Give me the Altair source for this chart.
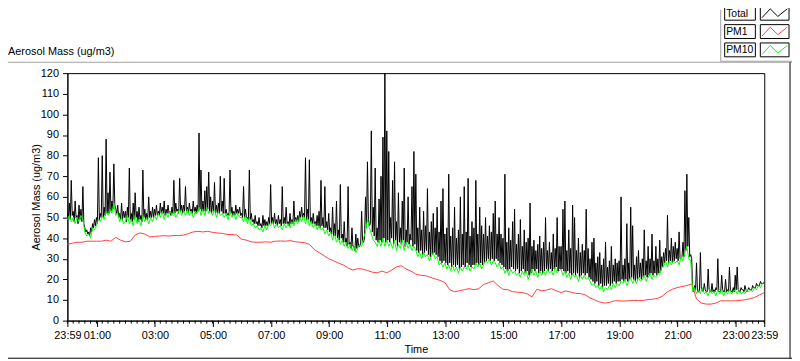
import altair as alt
import pandas as pd

FONT = "Liberation Sans"

# ---- data ----
# Total, upper readings: one value every 4 minutes from 23:59 (minute 0) to 23:59 next day (minute 1440); 15 per hour
TOTAL = [
    52, 57, 68, 53, 58, 51, 56, 54, 65, 45, 44, 43, 45, 47, 49,   # 23:59
    50, 79, 52, 80, 55, 88, 62, 72, 58, 76, 54, 56, 52, 57, 53,   # 00:59
    53, 55, 74, 52, 57, 62, 53, 55, 51, 73, 54, 52, 60, 53, 55,   # 01:59
    54, 56, 53, 57, 55, 58, 54, 56, 53, 55, 68, 57, 54, 69, 56,   # 02:59
    56, 65, 55, 57, 54, 58, 55, 56, 91, 73, 58, 63, 65, 72, 60,   # 03:59
    58, 67, 56, 57, 70, 58, 69, 54, 52, 73, 55, 53, 56, 54, 55,   # 04:59
    52, 65, 54, 50, 73, 52, 49, 51, 48, 50, 47, 51, 49, 48, 50,   # 05:59
    66, 50, 52, 49, 51, 49, 65, 50, 55, 48, 52, 49, 58, 50, 51,   # 06:59
    53, 55, 52, 79, 54, 78, 50, 52, 48, 51, 53, 68, 50, 65, 48,   # 07:59
    52, 45, 55, 47, 58, 44, 66, 42, 48, 40, 65, 38, 45, 36, 42,   # 08:59
    40, 36, 53, 38, 60, 77, 46, 92, 55, 74, 45, 59, 70, 89, 120,  # 09:59
    92, 82, 50, 68, 77, 48, 62, 45, 58, 74, 44, 60, 42, 65, 82,   # 10:59
    71, 45, 55, 44, 53, 46, 64, 43, 48, 52, 45, 55, 43, 58, 64,   # 11:59
    42, 45, 71, 41, 45, 55, 40, 44, 60, 42, 65, 43, 69, 41, 48,   # 12:59
    45, 68, 42, 55, 46, 42, 50, 41, 46, 43, 52, 58, 42, 50, 42,   # 13:59
    40, 71, 38, 45, 39, 48, 54, 37, 42, 49, 36, 44, 38, 40, 57,   # 14:59
    36, 39, 34, 37, 41, 35, 38, 50, 34, 38, 33, 42, 35, 50, 36,   # 15:59
    36, 54, 58, 34, 44, 35, 56, 50, 34, 40, 33, 37, 34, 54, 35,   # 16:59
    30, 38, 40, 28, 31, 33, 27, 30, 38, 26, 29, 36, 27, 30, 28,   # 17:59
    29, 60, 27, 30, 47, 28, 55, 46, 27, 31, 34, 28, 30, 44, 29,   # 18:59
    36, 30, 42, 29, 36, 30, 39, 31, 33, 35, 51, 34, 40, 36, 38,   # 19:59
    35, 43, 30, 38, 63, 71, 50, 32, 15, 17, 28, 14, 33, 15, 18,   # 20:59
    14, 25, 14, 18, 15, 16, 30, 14, 22, 14, 20, 15, 26, 14, 16,   # 21:59
    22, 26, 14, 16, 15, 17, 14, 16, 15, 17, 16, 18, 17, 19, 18,   # 22:59
    19,
]

# Total, lower readings (troughs), 2 minutes after each upper reading; 15 per hour
TOTAL_LOW = [
    50, 49, 51, 48, 50, 47, 49, 48, 47, 43, 42, 41, 43, 45, 46,
    47, 49, 50, 50, 51, 52, 52, 53, 54, 56, 52, 50, 49, 49, 50,
    48, 50, 49, 48, 49, 50, 48, 49, 48, 50, 49, 49, 50, 50, 50,
    51, 51, 51, 52, 52, 51, 52, 52, 51, 52, 52, 53, 52, 53, 52,
    53, 53, 52, 53, 52, 53, 52, 53, 54, 53, 53, 53, 54, 53, 52,
    53, 52, 52, 52, 53, 52, 52, 51, 51, 52, 51, 51, 52, 52, 51,
    50, 50, 50, 49, 49, 48, 47, 47, 46, 46, 45, 46, 46, 46, 47,
    47, 47, 47, 46, 47, 46, 47, 47, 47, 46, 47, 47, 48, 48, 48,
    50, 50, 50, 49, 49, 48, 47, 47, 46, 46, 45, 46, 45, 45, 44,
    43, 42, 41, 41, 40, 39, 40, 38, 38, 36, 37, 35, 36, 34, 35,
    36, 37, 38, 40, 45, 49, 47, 43, 41, 39, 38, 39, 38, 40, 38,
    39, 38, 40, 37, 39, 36, 38, 37, 39, 36, 38, 37, 39, 36, 37,
    34, 33, 34, 32, 33, 34, 32, 31, 32, 33, 32, 31, 29, 28, 29,
    28, 27, 28, 26, 27, 26, 27, 25, 26, 27, 26, 28, 27, 26, 27,
    27, 28, 27, 28, 27, 28, 29, 30, 29, 30, 29, 30, 29, 28, 27,
    26, 25, 24, 25, 26, 25, 24, 25, 23, 24, 25, 23, 24, 22, 23,
    25, 24, 25, 23, 24, 23, 24, 25, 24, 25, 24, 25, 26, 24, 25,
    25, 24, 23, 24, 23, 22, 23, 22, 23, 21, 22, 23, 22, 23, 21,
    20, 19, 18, 19, 17, 18, 16, 17, 17, 18, 17, 18, 19, 18, 19,
    19, 20, 19, 20, 19, 20, 21, 20, 19, 20, 21, 20, 21, 22, 21,
    22, 23, 22, 23, 22, 23, 24, 26, 28, 29, 28, 29, 28, 29, 30,
    29, 30, 31, 31, 34, 36, 31, 30, 14, 15, 14, 14, 15, 14, 15,
    14, 15, 14, 14, 14, 15, 14, 14, 15, 14, 14, 14, 15, 14, 14,
    15, 15, 14, 15, 14, 15, 15, 15, 15, 16, 16, 17, 17, 18, 18,
]

# PM10, every 4 minutes
PM10 = [
    49, 51, 48, 50, 47, 50, 48, 51, 49, 43, 41, 42, 40, 45, 44,
    46, 49, 48, 51, 49, 53, 51, 54, 52, 57, 51, 52, 48, 50, 47,
    48, 51, 47, 49, 46, 51, 47, 49, 46, 51, 48, 50, 47, 50, 48,
    51, 49, 52, 50, 53, 49, 52, 50, 53, 51, 53, 50, 52, 54, 51,
    53, 51, 54, 51, 53, 50, 53, 52, 55, 51, 54, 51, 55, 52, 53,
    51, 54, 50, 53, 51, 52, 50, 52, 49, 53, 50, 52, 49, 52, 50,
    50, 48, 51, 47, 50, 46, 47, 45, 46, 44, 45, 43, 46, 44, 47,
    46, 48, 45, 47, 45, 46, 44, 47, 45, 47, 45, 48, 46, 49, 47,
    50, 48, 51, 47, 50, 46, 48, 45, 47, 44, 46, 44, 45, 42, 44,
    41, 43, 39, 42, 38, 40, 37, 39, 36, 38, 35, 37, 34, 36, 33,
    35, 37, 36, 40, 43, 49, 45, 42, 39, 38, 36, 39, 36, 40, 36,
    39, 36, 38, 35, 39, 34, 37, 35, 39, 34, 38, 35, 37, 34, 36,
    34, 31, 33, 30, 33, 31, 32, 29, 31, 33, 30, 31, 27, 28, 26,
    28, 25, 27, 24, 27, 24, 26, 23, 26, 24, 26, 25, 27, 24, 26,
    25, 28, 26, 28, 25, 27, 29, 28, 30, 27, 29, 28, 26, 28, 25,
    26, 23, 25, 22, 25, 23, 24, 22, 23, 21, 24, 22, 24, 20, 22,
    25, 22, 24, 21, 24, 22, 24, 22, 25, 23, 24, 22, 26, 23, 24,
    25, 22, 24, 21, 23, 20, 23, 21, 22, 19, 22, 20, 22, 20, 21,
    19, 17, 18, 16, 17, 15, 17, 14, 16, 15, 17, 15, 18, 16, 18,
    17, 19, 18, 20, 17, 19, 21, 18, 20, 18, 21, 19, 20, 22, 19,
    21, 23, 20, 22, 21, 23, 22, 26, 26, 29, 26, 29, 27, 29, 28,
    29, 27, 31, 29, 33, 36, 30, 29, 14, 16, 13, 15, 13, 16, 13,
    14, 12, 15, 13, 14, 12, 15, 13, 15, 12, 14, 13, 15, 13, 14,
    15, 13, 15, 13, 14, 13, 15, 14, 15, 14, 16, 15, 17, 16, 18,
    19,
]

# PM1, every 10 minutes; 6 per hour
PM1 = [
    37, 37.5, 38, 38, 38.5, 38.5,
    38.5, 38.5, 39, 38.5, 40.4, 39,
    38.2, 38.5, 41.5, 42.5, 42, 40.6,
    40.8, 41, 41.2, 41, 41.3, 41.2,
    41.5, 42.2, 43, 43.3, 43, 43.3,
    42.8, 42.5, 42.3, 41.8, 41.7, 41.5,
    39.5, 39, 38.2, 38, 38, 38.2,
    38, 38.5, 38.6, 38.5, 38.8, 38.3,
    38, 37.8, 37, 34.5, 33, 31.5,
    30, 29, 27.9, 27, 25.5, 24.5,
    25.2, 25, 24.3, 23.5, 23.2, 24,
    23.2, 24.5, 26, 26.6, 25, 24,
    22.5, 22, 21.8, 21, 20.2, 19.5,
    18.5, 15, 14, 14.5, 15, 15.5,
    15, 15.5, 17.5, 18.4, 19.2, 17,
    15.2, 15, 14, 13.8, 13.6, 13,
    11.5, 15.2, 14.5, 14.8, 15.5, 14.5,
    13.6, 14.4, 13.8, 13.2, 13.1, 12.5,
    11, 10, 9, 8.5, 8.8, 9.6,
    9.6, 9.5, 9.6, 9.8, 9.7, 9.8,
    10.2, 10.4, 10.8, 12, 14, 15.2,
    16, 16.5, 17, 17.8, 10.5, 8.5,
    8, 8, 8.5, 9.6, 9.6, 9.6,
    9.6, 9.8, 10.1, 10.6, 11.2, 12.5,
    13.6,
]

TICK_MINUTES = [0, 61, 181, 301, 421, 541, 661, 781, 901, 1021, 1141, 1261, 1381, 1440]
TICK_LABELS = ["23:59", "01:00", "03:00", "05:00", "07:00", "09:00", "11:00",
               "13:00", "15:00", "17:00", "19:00", "21:00", "23:00", "23:59"]
MINOR_TICKS = list(range(0, 1441, 12))
Y_TICKS = list(range(0, 121, 10))

SERIES = ["Total", "PM1", "PM10"]
COLORS = ["#000000", "#ff4040", "#00ff00"]

# Total: upper readings at every 4th minute, troughs in between
t_min, t_val = [], []
for i, hi in enumerate(TOTAL):
    t_min.append(4 * i)
    t_val.append(hi)
    if i < len(TOTAL_LOW):
        t_min.append(4 * i + 2)
        t_val.append(TOTAL_LOW[i])

df_total = pd.DataFrame({"minute": t_min, "value": t_val})
df_pm10 = pd.DataFrame({"minute": list(range(0, 1441, 4)), "value": PM10})
df_pm1 = pd.DataFrame({"minute": list(range(0, 1441, 10)), "value": PM1})
df_minor = pd.DataFrame({"minute": MINOR_TICKS})

arr_m = "[" + ",".join(str(m) for m in TICK_MINUTES) + "]"
arr_l = "[" + ",".join("'" + s + "'" for s in TICK_LABELS) + "]"
label_expr = f"{arr_l}[indexof({arr_m}, datum.value)]"

x_enc = alt.X(
    "minute:Q",
    scale=alt.Scale(domain=[0, 1440], nice=False, zero=False),
    axis=alt.Axis(values=TICK_MINUTES, labelExpr=label_expr, tickSize=6, labelPadding=3,
                  labelOverlap=False, labelFlush=False, title="Time",
                  titleX=352, titleY=29, titleBaseline="middle"),
)
y_enc = alt.Y(
    "value:Q",
    scale=alt.Scale(domain=[0, 120], nice=False),
    axis=alt.Axis(values=Y_TICKS, tickSize=5, labelPadding=4, labelOverlap=False,
                  title="Aerosol Mass (ug/m3)", titleX=-31, titleY=125, titleAngle=-90,
                  titleAlign="center", titleBaseline="middle"),
)

layers = []
for df, col in [(df_total, COLORS[0]), (df_pm1, COLORS[1]), (df_pm10, COLORS[2])]:
    layers.append(alt.Chart(df).mark_line(strokeWidth=1, color=col).encode(x=x_enc, y=y_enc))

# minor ticks on the time axis
layers.append(
    alt.Chart(df_minor).mark_rule(color="black", strokeWidth=1).encode(
        x=alt.X("minute:Q"), y=alt.value(250), y2=alt.value(253)
    )
)

one = pd.DataFrame({"t": ["Aerosol Mass (ug/m3)"]})
layers.append(
    alt.Chart(one).mark_text(align="left", baseline="middle", font=FONT, fontSize=11, color="black")
    .encode(x=alt.value(-60), y=alt.value(-21), text="t:N")
)

def hline(y, x1, x2, col):
    return alt.Chart(one).mark_rule(color=col, strokeWidth=1).encode(
        x=alt.value(x1), x2=alt.value(x2), y=alt.value(y))

def vline(x, y1, y2, col):
    return alt.Chart(one).mark_rule(color=col, strokeWidth=1).encode(
        x=alt.value(x), y=alt.value(y1), y2=alt.value(y2))

layers += [
    hline(-11, -60, 732, "#a0a0a0"),
    vline(660, -64, -12, "#a0a0a0"),
    hline(-12, 660, 732, "#a0a0a0"),
    hline(288, -60, 732, "#000000"),
    vline(730, -11, 288, "#000000"),
]

# legend
ZIG = "M-1,0.35L-0.35,-0.35L0.25,0.25L1,-0.35"
row_y = [-60.5, -42, -23.5]
for name, col, yy in zip(SERIES, COLORS, row_y):
    d = pd.DataFrame({"name": [name]})
    layers.append(alt.Chart(d).mark_rect(fill="white", stroke="black", strokeWidth=1).encode(
        x=alt.value(664), x2=alt.value(695), y=alt.value(yy - 7), y2=alt.value(yy + 7)))
    layers.append(alt.Chart(d).mark_rect(fill="white", stroke="black", strokeWidth=1).encode(
        x=alt.value(700), x2=alt.value(729), y=alt.value(yy - 7), y2=alt.value(yy + 7)))
    layers.append(alt.Chart(d).mark_text(align="left", baseline="middle", font=FONT, fontSize=10.5,
                                         color="black").encode(
        x=alt.value(665.5), y=alt.value(yy + 0.5), text="name:N"))
    layers.append(alt.Chart(d).mark_point(shape=ZIG, size=650, filled=False, strokeWidth=1,
                                          color=col, opacity=1).encode(
        x=alt.value(714.5), y=alt.value(yy)))

chart = (
    alt.layer(*layers)
    .properties(width=704, height=250,
                autosize=alt.AutoSizeParams(type="none"),
                padding={"left": 60, "top": 64, "right": 28, "bottom": 39})
    .configure_view(stroke="black", strokeWidth=1)
    .configure_axis(grid=False, domainColor="black", tickColor="black", labelColor="black",
                    titleColor="black", labelFont=FONT, titleFont=FONT, labelFontSize=11,
                    titleFontSize=11, titleFontWeight="normal")
)

chart.save("out.html", embed_options={"renderer": "svg", "actions": False})
